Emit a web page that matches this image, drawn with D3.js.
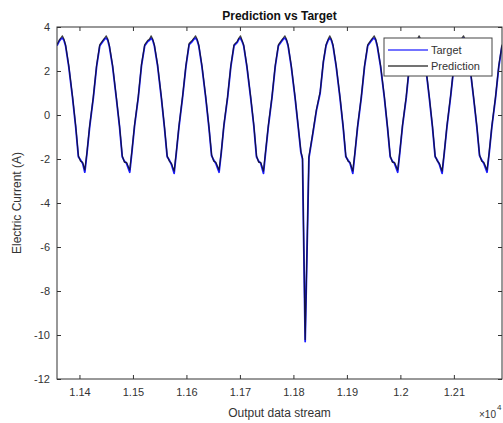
<!DOCTYPE html>
<html>
<head>
<meta charset="utf-8">
<script src="https://cdn.jsdelivr.net/npm/d3@7"></script>
<style>
  body { margin: 0; background: #fff; }
  text { font-family: "Liberation Sans", Arial, sans-serif; fill: #333; }
</style>
</head>
<body>
<div id="vis"></div>
<script>
// chart values
var xTickVals = [11400, 11500, 11600, 11700, 11800, 11900, 12000, 12100]
var xTickLabels = ["1.14", "1.15", "1.16", "1.17", "1.18", "1.19", "1.2", "1.21"]
var yTickVals = [4, 2, 0, -2, -4, -6, -8, -10, -12]
var seriesNames = ["Target", "Prediction"]

// sample index of each vertex in the output stream
var streamX = [
  11358, 11362, 11365, 11368,
  11371, 11374, 11380, 11387, 11393, 11398, 11402, 11406, 11410,
  11414, 11419, 11426, 11432, 11438, 11444, 11447, 11450,
  11453, 11456, 11462, 11469, 11475, 11480, 11484, 11488, 11494,
  11498, 11503, 11510, 11516, 11522, 11528, 11531, 11534,
  11537, 11540, 11546, 11553, 11559, 11564, 11568, 11572, 11577,
  11581, 11586, 11593, 11599, 11605, 11611, 11614, 11617,
  11620, 11623, 11629, 11636, 11642, 11647, 11651, 11655, 11661,
  11665, 11670, 11677, 11683, 11689, 11695, 11698, 11701,
  11704, 11707, 11713, 11720, 11726, 11731, 11735, 11739, 11744,
  11748, 11753, 11760, 11766, 11772, 11778, 11781, 11784,
  11787, 11790, 11796, 11803, 11809, 11814, 11817, 11822, 11829,
  11836, 11843, 11850, 11856, 11861, 11865, 11868,
  11871, 11874, 11880, 11887, 11893, 11898, 11902, 11906, 11911,
  11915, 11920, 11927, 11933, 11939, 11945, 11948, 11951,
  11954, 11957, 11963, 11970, 11976, 11981, 11985, 11989, 11995,
  11999, 12004, 12011, 12017, 12023, 12029, 12032, 12035,
  12038, 12041, 12047, 12054, 12060, 12065, 12069, 12073, 12078,
  12082, 12087, 12094, 12100, 12106, 12112, 12115, 12118,
  12121, 12124, 12130, 12137, 12143, 12148, 12152, 12156, 12162,
  12166, 12171, 12178, 12184, 12190
]

var targetY = [
  3.15, 3.35, 3.45, 3.5,
  3.4, 3.15, 2.2, 0.8, -0.55, -1.9, -2.05, -2.2, -2.6,
  -1.75, -0.55, 0.8, 2.2, 3.15, 3.35, 3.45, 3.5,
  3.4, 3.1, 2.2, 0.75, -0.55, -1.9, -2.1, -2.2, -2.6,
  -1.7, -0.5, 0.8, 2.25, 3.15, 3.35, 3.4, 3.5,
  3.4, 3.15, 2.25, 0.8, -0.6, -1.9, -2.05, -2.25, -2.65,
  -1.75, -0.55, 0.85, 2.2, 3.2, 3.35, 3.45, 3.5,
  3.4, 3.15, 2.2, 0.8, -0.55, -1.85, -2.05, -2.2, -2.6,
  -1.75, -0.5, 0.8, 2.2, 3.15, 3.3, 3.45, 3.5,
  3.35, 3.15, 2.2, 0.8, -0.5, -1.9, -2.1, -2.2, -2.65,
  -1.7, -0.55, 0.8, 2.2, 3.15, 3.35, 3.45, 3.5,
  3.4, 3.15, 2.2, 0.8, -0.55, -1.7, -2.0, -10.3, -1.95,
  -0.9, 0.2, 1.0, 2.4, 3.15, 3.4, 3.5,
  3.4, 3.15, 2.2, 0.8, -0.55, -1.9, -2.05, -2.2, -2.65,
  -1.75, -0.55, 0.8, 2.2, 3.15, 3.35, 3.45, 3.5,
  3.4, 3.1, 2.2, 0.8, -0.6, -1.9, -2.1, -2.2, -2.6,
  -1.7, -0.5, 0.8, 2.25, 3.15, 3.35, 3.4, 3.5,
  3.4, 3.15, 2.25, 0.8, -0.55, -1.9, -2.05, -2.25, -2.65,
  -1.75, -0.55, 0.85, 2.2, 3.2, 3.35, 3.45, 3.5,
  3.4, 3.15, 2.2, 0.75, -0.55, -1.85, -2.05, -2.2, -2.6,
  -1.75, -0.55, 0.8, 2.2, 3.15
]

var predictionY = [
  3.2, 3.4, 3.5, 3.6,
  3.45, 3.2, 2.25, 0.85, -0.5, -1.85, -2.1, -2.15, -2.5,
  -1.7, -0.5, 0.85, 2.25, 3.2, 3.4, 3.5, 3.6,
  3.45, 3.15, 2.25, 0.8, -0.5, -1.85, -2.15, -2.15, -2.5,
  -1.65, -0.45, 0.85, 2.3, 3.2, 3.4, 3.45, 3.6,
  3.45, 3.2, 2.3, 0.85, -0.55, -1.85, -2.1, -2.2, -2.55,
  -1.7, -0.5, 0.9, 2.25, 3.25, 3.4, 3.5, 3.6,
  3.45, 3.2, 2.25, 0.85, -0.5, -1.8, -2.1, -2.15, -2.5,
  -1.7, -0.45, 0.85, 2.25, 3.2, 3.35, 3.5, 3.6,
  3.4, 3.2, 2.25, 0.85, -0.45, -1.85, -2.15, -2.15, -2.55,
  -1.65, -0.5, 0.85, 2.25, 3.2, 3.4, 3.5, 3.6,
  3.45, 3.2, 2.25, 0.85, -0.5, -1.65, -1.95, -10.2, -1.9,
  -0.85, 0.25, 1.05, 2.45, 3.2, 3.45, 3.6,
  3.45, 3.2, 2.25, 0.85, -0.5, -1.85, -2.1, -2.15, -2.55,
  -1.7, -0.5, 0.85, 2.25, 3.2, 3.4, 3.5, 3.6,
  3.45, 3.15, 2.25, 0.85, -0.55, -1.85, -2.15, -2.15, -2.5,
  -1.65, -0.45, 0.85, 2.3, 3.2, 3.4, 3.45, 3.6,
  3.45, 3.2, 2.3, 0.85, -0.5, -1.85, -2.1, -2.2, -2.55,
  -1.7, -0.5, 0.9, 2.25, 3.25, 3.4, 3.5, 3.6,
  3.45, 3.2, 2.25, 0.8, -0.5, -1.8, -2.1, -2.15, -2.5,
  -1.7, -0.5, 0.85, 2.25, 3.2
]

var width = 503
var height = 423
var plotL = 57, plotR = 502, plotT = 27, plotB = 379

var svg = d3.select('#vis').append('svg')
  .attr('width', width)
  .attr('height', height)

var x = d3.scaleLinear().domain([11358, 12190]).range([plotL, plotR])
var y = d3.scaleLinear().domain([-12, 4]).range([plotB, plotT])

svg.append('rect')
  .attr('x', 0).attr('y', 0)
  .attr('width', width).attr('height', height)
  .attr('fill', '#fff')

svg.append('clipPath').attr('id', 'plotClip')
  .append('rect')
  .attr('x', plotL).attr('y', plotT)
  .attr('width', plotR - plotL).attr('height', plotB - plotT)

//lines
var line = d3.line()
  .x(function(d){return x(d[0])})
  .y(function(d){return y(d[1])})

var targetPts = streamX.map(function(v, i){return [v, targetY[i]]})
var predPts = streamX.map(function(v, i){return [v, predictionY[i]]})

var lines = svg.append('g').attr('clip-path', 'url(#plotClip)')
lines.append('path')
  .attr('d', line(targetPts))
  .attr('fill', 'none')
  .attr('stroke', '#1a1aff')
  .attr('stroke-width', 1.8)
  .attr('stroke-linejoin', 'round')
lines.append('path')
  .attr('d', line(predPts))
  .attr('fill', 'none')
  .attr('stroke', '#111')
  .attr('stroke-opacity', 0.8)
  .attr('stroke-width', 1.2)
  .attr('stroke-linejoin', 'round')

//axes, ticks pointing inward on all four sides
svg.append('g')
  .attr('transform', 'translate(0,' + plotB + ')')
  .call(d3.axisBottom(x).tickValues(xTickVals).tickSize(-4).tickPadding(9)
    .tickFormat(function(d, i){return xTickLabels[i]}))
svg.append('g')
  .attr('transform', 'translate(0,' + plotT + ')')
  .call(d3.axisTop(x).tickValues(xTickVals).tickSize(-4).tickFormat(''))
svg.append('g')
  .attr('transform', 'translate(' + plotL + ',0)')
  .call(d3.axisLeft(y).tickValues(yTickVals).tickSize(-4).tickPadding(7)
    .tickFormat(function(d){return String(d)}))
svg.append('g')
  .attr('transform', 'translate(' + plotR + ',0)')
  .call(d3.axisRight(y).tickValues(yTickVals).tickSize(-4).tickFormat(''))

svg.selectAll('.domain').remove()
svg.selectAll('.tick line').attr('stroke', '#333')
svg.selectAll('.tick text')
  .attr('font-family', '"Liberation Sans", Arial, sans-serif')
  .attr('font-size', 11)
  .attr('fill', '#333')

svg.append('rect')
  .attr('x', plotL).attr('y', plotT)
  .attr('width', plotR - plotL).attr('height', plotB - plotT)
  .attr('fill', 'none')
  .attr('stroke', '#333')
  .attr('stroke-width', 1)

//labels
svg.append('text')
  .attr('x', (plotL + plotR) / 2).attr('y', 20)
  .attr('text-anchor', 'middle')
  .attr('font-size', 12)
  .attr('font-weight', 'bold')
  .style('fill', '#111')
  .text('Prediction vs Target')

svg.append('text')
  .attr('x', (plotL + plotR) / 2).attr('y', 417)
  .attr('text-anchor', 'middle')
  .attr('font-size', 12)
  .text('Output data stream')

svg.append('text')
  .attr('transform', 'translate(21,' + (plotT + plotB) / 2 + ') rotate(-90)')
  .attr('text-anchor', 'middle')
  .attr('font-size', 12)
  .text('Electric Current (A)')

svg.append('text')
  .attr('x', 496).attr('y', 418)
  .attr('text-anchor', 'end')
  .attr('font-size', 10)
  .text('\u00d710')
svg.append('text')
  .attr('x', 497).attr('y', 410)
  .attr('font-size', 8)
  .text('4')

//legend
var legend = svg.append('g').attr('transform', 'translate(384,38)')
legend.append('rect')
  .attr('width', 108).attr('height', 38)
  .attr('fill', '#fff')
  .attr('stroke', '#444')
var legColors = ['#7373ff', '#444']
seriesNames.forEach(function(name, i){
  legend.append('line')
    .attr('x1', 4).attr('x2', 44)
    .attr('y1', 12 + i * 16).attr('y2', 12 + i * 16)
    .attr('stroke', legColors[i])
    .attr('stroke-width', i == 0 ? 2 : 1.5)
  legend.append('text')
    .attr('x', 47).attr('y', 16 + i * 16)
    .attr('font-size', 11)
    .text(name)
})
</script>
</body>
</html>
